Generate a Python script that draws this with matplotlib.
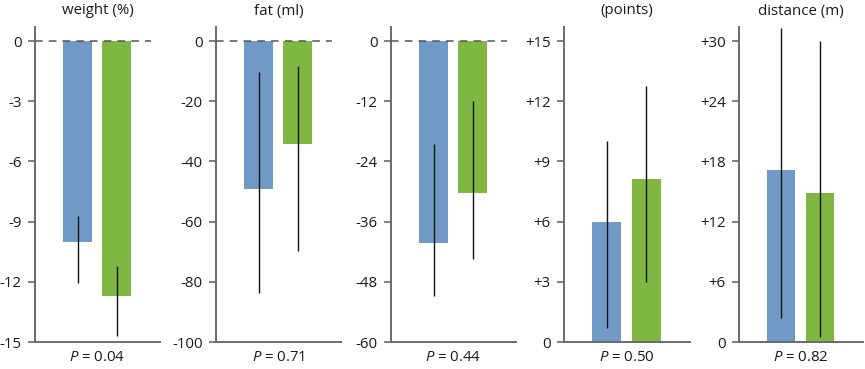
import numpy as np
import matplotlib.pyplot as plt

plt.rcParams['font.family'] = ['Open Sans', 'DejaVu Sans']
plt.rcParams['mathtext.fontset'] = 'custom'
plt.rcParams['mathtext.it'] = 'Open Sans:italic'
plt.rcParams['mathtext.rm'] = 'Open Sans'

# panel data
titles = ['weight (%)', 'fat (ml)', '', '(points)', 'distance (m)']
p_values = ['0.04', '0.71', '0.44', '0.50', '0.82']
tick_lists = [[0, -3, -6, -9, -12, -15],
              [0, -20, -40, -60, -80, -100],
              [0, -12, -24, -36, -48, -60],
              [0, 3, 6, 9, 12, 15],
              [0, 6, 12, 18, 24, 30]]

blue_mean = [-10.0, -49.0, -40.2, 6.0, 17.1]
blue_lo = [-12.05, -83.7, -50.8, 0.7, 2.4]
blue_hi = [-8.7, -10.3, -20.6, 10.0, 31.3]
green_mean = [-12.7, -34.3, -30.2, 8.1, 14.9]
green_lo = [-14.7, -69.7, -43.4, 3.0, 0.5]
green_hi = [-11.2, -8.3, -12.0, 12.75, 30.0]

blue = '#7199c6'
green = '#80b742'
spine_col = '#6a6a6a'

W, H = 865, 369
fig = plt.figure(figsize=(W / 100, H / 100), dpi=100)

lefts = [35, 216, 391, 564, 739]
widths = [125, 125, 125, 126, 124]
bottom_px = 342
top_px = 27

for i in range(5):
    ax = fig.add_axes([lefts[i] / W, (H - bottom_px) / H, widths[i] / W, (bottom_px - top_px) / H])
    ticks = tick_lists[i]
    step = abs(ticks[1] - ticks[0])
    extra = step * 14 / 60
    if ticks[-1] < 0:
        ax.set_ylim(ticks[-1], extra)
        # dashed zero line
        ax.axhline(0, xmin=0, xmax=0.93, color='#555555', lw=1.1, ls=(0, (5, 4)), zorder=3)
        labels = [str(t) for t in ticks]
    else:
        ax.set_ylim(0, ticks[-1] + extra)
        labels = ['0' if t == 0 else '+%d' % t for t in ticks]
    ax.set_yticks(ticks)
    ax.set_yticklabels(labels)

    x = np.array([0, 1])
    means = [blue_mean[i], green_mean[i]]
    ax.bar(x, means, width=0.74, color=[blue, green], zorder=2)
    ax.vlines(0, blue_lo[i], blue_hi[i], color='#111111', lw=1.0, zorder=4)
    ax.vlines(1, green_lo[i], green_hi[i], color='#111111', lw=1.0, zorder=4)
    ax.set_xlim(-1.09, 2.115)
    ax.set_xticks([])

    for s in ['top', 'right']:
        ax.spines[s].set_visible(False)
    for s in ['left', 'bottom']:
        ax.spines[s].set_color(spine_col)
        ax.spines[s].set_linewidth(1.4)
    ax.tick_params(axis='y', length=5, width=1.2, color=spine_col, labelsize=10.8,
                   labelcolor='#1a1a1a', pad=4.5)

    ax.set_xlabel('$P$ = ' + p_values[i], fontsize=10.8, color='#1a1a1a', labelpad=6)
    if titles[i]:
        ax.set_title(titles[i], fontsize=10.8, color='#1a1a1a', pad=9)

fig.savefig('out.png', dpi=100)
